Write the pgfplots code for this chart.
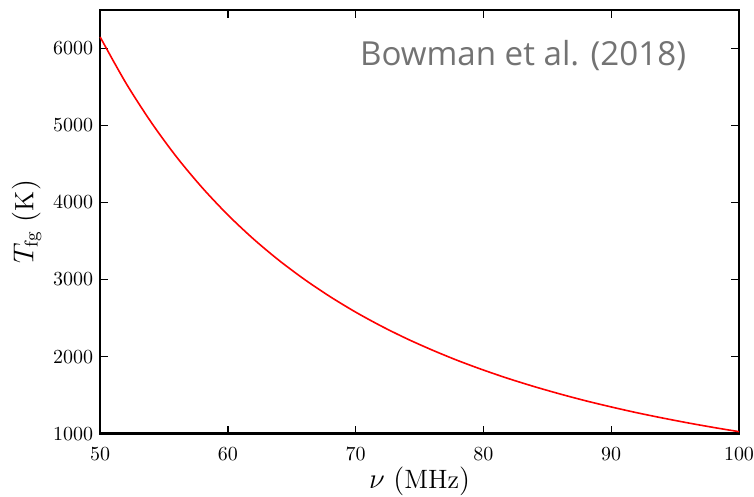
\documentclass[border=0pt]{standalone}
\usepackage{pgfplots}
\pgfplotsset{compat=1.18}
\usepackage{fontspec}
\newfontfamily\bowfont{Open Sans}
\usetikzlibrary{calc}
\begin{document}
\begin{tikzpicture}
\begin{axis}[
  scale only axis,
  width=319bp, height=211.5bp,
  xmin=50, xmax=100, ymin=1000, ymax=6500,
  xtick={50,60,70,80,90,100},
  ytick={1000,2000,3000,4000,5000,6000},
  tick align=inside,
  major tick length=4bp,
  axis line style={line width=1.1bp},
  every tick/.style={black, line width=0.6bp},
  ticklabel style={font=\fontsize{10}{12}\selectfont},
  xticklabel style={yshift=-3.5bp},
  scaled y ticks=false,
  yticklabel style={/pgf/number format/1000 sep={}},
  xlabel={$\nu\ (\mathrm{MHz})$},
  ylabel={$T_{\rm fg}\ (\mathrm{K})$},
  label style={font=\fontsize{13.3}{15}\selectfont},
  xlabel style={yshift=3.5bp},
  ylabel style={yshift=-1bp},
  clip=false,
]
\addplot[red, line width=0.8bp, smooth] coordinates {
(50,6150) (52,5557) (54,5041) (56,4588) (58,4191) (60,3839) (62,3527) (64,3249) (66,3001) (68,2778) (70,2577) (72,2396) (74,2232) (76,2084) (78,1948) (80,1825) (82,1712) (84,1609) (86,1514) (88,1426) (90,1346) (92,1271) (94,1203) (96,1139) (98,1080) (100,1025)
};
\node[anchor=center, text=black!55, font=\bowfont\fontsize{16.6}{19}\selectfont] at (axis cs:83.1,5909) {Bowman et al. (2018)};
\end{axis}
\pgfresetboundingbox
\path ($(current axis.south west)+(-50bp,-31.5bp)$) rectangle ($(current axis.north east)+(7.5bp,5bp)$);
\end{tikzpicture}
\end{document}
